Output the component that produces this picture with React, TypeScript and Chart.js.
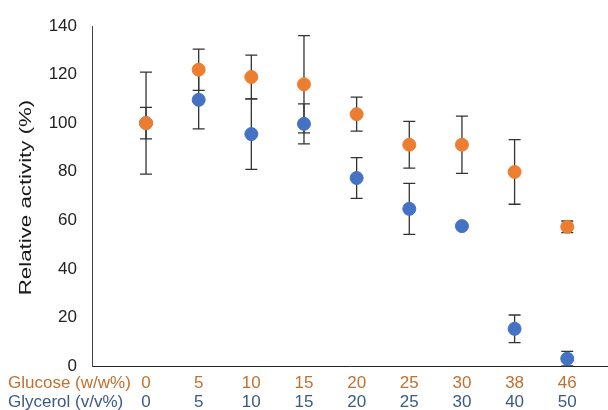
import React, { useEffect, useRef } from "react";
import { Chart, registerables } from "chart.js";

Chart.register(...registerables);

const glucoseLabels = ["0", "5", "10", "15", "20", "25", "30", "38", "46"];
const glycerolLabels = ["0", "5", "10", "15", "20", "25", "30", "40", "50"];
const glucoseMean = [100, 122, 119, 116, 103.7, 91.1, 91.1, 79.9, 57.3];
const glucoseErr = [21, 8.5, 9, 20, 7, 9.6, 11.8, 13.3, 2.4];
const glycerolMean = [100, 109.6, 95.5, 99.7, 77.4, 64.7, 57.6, 15.3, 3.0];
const glycerolErr = [6.5, 12, 14.5, 8.2, 8.4, 10.5, 0.5, 5.7, 3];
const yTitle = "Relative activity (%)";
const glucoseRowTitle = "Glucose (w/w%)";
const glycerolRowTitle = "Glycerol (v/v%)";

const ORANGE = "#ED7D31";
const BLUE = "#4472C4";
const ORANGE_TEXT = "#C0702F";
const BLUE_TEXT = "#3A5A85";
const FONT = "'Liberation Sans', Arial, sans-serif";

export default function App() {
  const ref = useRef<HTMLCanvasElement | null>(null);

  useEffect(() => {
    document.body.style.margin = "0";
    const canvas = ref.current;
    if (!canvas) return;

    const errorBars = {
      id: "errorBars",
      beforeDatasetsDraw(chart: any) {
        const { ctx, scales } = chart;
        const xs = scales.x;
        const ys = scales.y;
        ctx.save();
        ctx.strokeStyle = "#333333";
        ctx.lineWidth = 1.3;
        const sets: [number[], number[]][] = [
          [glycerolMean, glycerolErr],
          [glucoseMean, glucoseErr],
        ];
        for (const [m, e] of sets) {
          m.forEach((v, i) => {
            const x = xs.getPixelForValue(i);
            const yt = ys.getPixelForValue(v + e[i]);
            const yb = ys.getPixelForValue(Math.max(0, v - e[i]));
            ctx.beginPath();
            ctx.moveTo(x, yt);
            ctx.lineTo(x, yb);
            ctx.moveTo(x - 6, yt);
            ctx.lineTo(x + 6, yt);
            ctx.moveTo(x - 6, yb);
            ctx.lineTo(x + 6, yb);
            ctx.stroke();
          });
        }
        ctx.restore();
      },
    };

    const labelsPlugin = {
      id: "customLabels",
      afterDraw(chart: any) {
        const { ctx, scales } = chart;
        const xs = scales.x;
        ctx.save();
        ctx.font = `17px ${FONT}`;
        ctx.textBaseline = "alphabetic";
        ctx.textAlign = "left";
        ctx.fillStyle = ORANGE_TEXT;
        ctx.fillText(glucoseRowTitle, 8, 388);
        ctx.fillStyle = BLUE_TEXT;
        ctx.fillText(glycerolRowTitle, 8, 407);
        ctx.textAlign = "center";
        glucoseLabels.forEach((l, i) => {
          ctx.fillStyle = ORANGE_TEXT;
          ctx.fillText(l, xs.getPixelForValue(i), 388);
        });
        glycerolLabels.forEach((l, i) => {
          ctx.fillStyle = BLUE_TEXT;
          ctx.fillText(l, xs.getPixelForValue(i), 407);
        });
        ctx.translate(30.5, 197.5);
        ctx.rotate(-Math.PI / 2);
        ctx.scale(1.31, 1);
        ctx.fillStyle = "#1a1a1a";
        ctx.fillText(yTitle, 0, 0);
        ctx.restore();
      },
    };

    const chart = new Chart(canvas, {
      type: "scatter",
      data: {
        datasets: [
          {
            label: "Glucose",
            data: glucoseMean.map((v, i) => ({ x: i, y: v })),
            backgroundColor: ORANGE,
            borderColor: ORANGE,
            borderWidth: 1,
            pointRadius: 6.5,
          },
          {
            label: "Glycerol",
            data: glycerolMean.map((v, i) => ({ x: i, y: v })),
            backgroundColor: BLUE,
            borderColor: BLUE,
            borderWidth: 1,
            pointRadius: 6.5,
          },
        ],
      },
      options: {
        animation: false,
        responsive: false,
        layout: { autoPadding: false, padding: { top: 26, right: 0, left: 0, bottom: 0 } },
        plugins: {
          legend: { display: false },
          tooltip: { enabled: false },
        },
        scales: {
          x: {
            type: "linear",
            min: -1.026,
            max: 8.774,
            grid: { display: false, drawTicks: false },
            border: { display: true, color: "#222", width: 1 },
            ticks: { display: false },
            afterFit(scale: any) {
              scale.height = 44;
            },
          },
          y: {
            min: 0,
            max: 140,
            grid: { display: false, drawTicks: false },
            border: { display: true, color: "#444", width: 1 },
            ticks: {
              stepSize: 20,
              padding: 15,
              color: "#222",
              font: { size: 17, family: FONT },
            },
            afterFit(scale: any) {
              scale.width = 92;
            },
          },
        },
      },
      plugins: [errorBars, labelsPlugin],
    });

    return () => chart.destroy();
  }, []);

  return (
    <div style={{ width: 608, height: 410 }}>
      <canvas ref={ref} width={608} height={410} />
    </div>
  );
}
